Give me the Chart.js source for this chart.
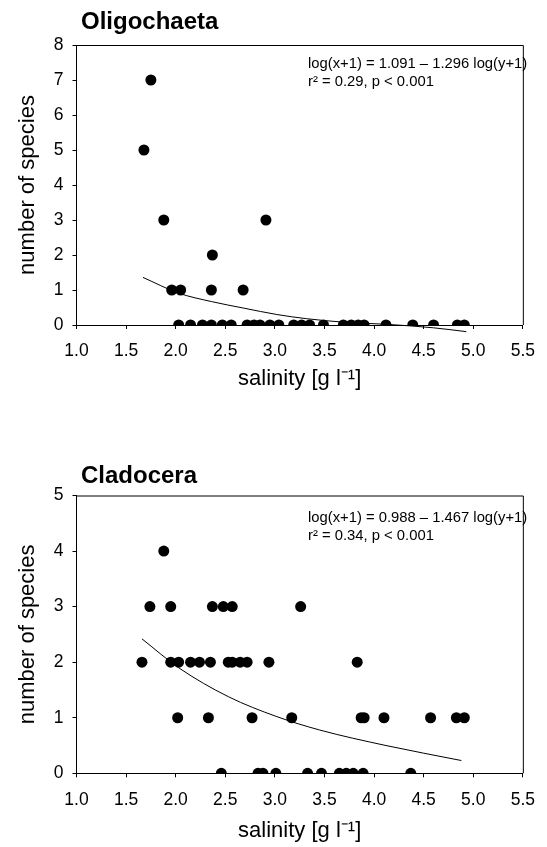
<!DOCTYPE html>
<html>
<head>
<meta charset="utf-8">
<script src="https://cdn.jsdelivr.net/npm/chart.js@4.4.0/dist/chart.umd.min.js"></script>
<style>
  html, body { margin: 0; padding: 0; background: #fff; }
  #wrap { position: relative; width: 547px; height: 847px; }
  canvas { position: absolute; left: 0; }
</style>
</head>
<body>
<div id="wrap">
  <canvas id="c1" width="547" height="420" style="top:0"></canvas>
  <canvas id="c2" width="547" height="427" style="top:420px"></canvas>
</div>
<script>
// ---------- DATA ----------
const salinityTicks = [1.0, 1.5, 2.0, 2.5, 3.0, 3.5, 4.0, 4.5, 5.0, 5.5];
const oligoTicks = [0, 1, 2, 3, 4, 5, 6, 7, 8];
const cladoTicks = [0, 1, 2, 3, 4, 5];

// Oligochaeta observations
const oligoSalinity = [1.68, 1.75, 1.88, 2.91, 2.37, 1.96, 2.05, 2.36, 2.68,
  2.03, 2.15, 2.27, 2.36, 2.47, 2.56, 2.72, 2.79, 2.85, 2.95, 3.04, 3.19,
  3.27, 3.35, 3.49, 3.69, 3.77, 3.84, 3.90, 4.12, 4.39, 4.60, 4.84, 4.91];
const oligoSpecies = [5, 7, 3, 3, 2, 1, 1, 1, 1,
  0, 0, 0, 0, 0, 0, 0, 0, 0, 0, 0, 0,
  0, 0, 0, 0, 0, 0, 0, 0, 0, 0, 0, 0];
// Oligochaeta fitted curve
const oligoFitX = [1.67, 2.03, 2.36, 2.69, 3.02, 3.32, 3.70, 4.12, 4.60, 4.93];
const oligoFitY = [1.36, 0.91, 0.67, 0.48, 0.30, 0.18, 0.08, 0.02, -0.08, -0.19];

// Cladocera observations
const cladoSalinity = [1.88,
  1.74, 1.95, 2.37, 2.48, 2.57, 3.26,
  1.66, 1.95, 2.03, 2.15, 2.24, 2.35, 2.53, 2.57, 2.65, 2.72, 2.94, 3.83,
  2.02, 2.33, 2.77, 3.17, 3.87, 3.90, 4.10, 4.57, 4.83, 4.91,
  2.46, 2.83, 2.88, 3.01, 3.33, 3.47, 3.65, 3.72, 3.79, 3.89, 4.37];
const cladoSpecies = [4,
  3, 3, 3, 3, 3, 3,
  2, 2, 2, 2, 2, 2, 2, 2, 2, 2, 2, 2,
  1, 1, 1, 1, 1, 1, 1, 1, 1, 1,
  0, 0, 0, 0, 0, 0, 0, 0, 0, 0, 0];
// Cladocera fitted curve
const cladoFitX = [1.66, 2.03, 2.53, 3.02, 3.45, 4.12, 4.88];
const cladoFitY = [2.42, 1.90, 1.38, 1.02, 0.78, 0.50, 0.23];

// ---------- TEXT ----------
const oligoTitle = 'Oligochaeta';
const oligoEq = ['log(x+1) = 1.091 – 1.296 log(y+1)', 'r² = 0.29, p < 0.001'];
const cladoTitle = 'Cladocera';
const cladoEq = ['log(x+1) = 0.988 – 1.467 log(y+1)', 'r² = 0.34, p < 0.001'];
const xTitle = 'salinity [g l⁻¹]';
const yTitle = 'number of species';

// ---------- RENDER ----------
const FONT = "'Liberation Sans', Arial, Helvetica, sans-serif";
Chart.defaults.font.family = FONT;
Chart.defaults.color = '#000';

const pairs = (xs, ys) => xs.map((x, i) => ({ x: x, y: ys[i] }));

const framePlugin = {
  id: 'frameText',
  afterDraw(chart, args, opts) {
    const ctx = chart.ctx;
    const a = chart.chartArea;
    ctx.save();
    ctx.strokeStyle = '#000';
    ctx.lineWidth = 1;
    ctx.beginPath();
    ctx.moveTo(a.left, a.top + 0.5);
    ctx.lineTo(a.right + 0.5, a.top + 0.5);
    ctx.lineTo(a.right + 0.5, a.bottom);
    ctx.stroke();
    ctx.fillStyle = '#000';
    ctx.textAlign = 'left';
    ctx.textBaseline = 'alphabetic';
    ctx.font = 'bold 24px ' + FONT;
    ctx.fillText(opts.title, 81, opts.titleY);
    ctx.font = '14.8px ' + FONT;
    opts.eq.forEach((t, i) => ctx.fillText(t, 308, opts.eqY[i]));
    ctx.restore();
  }
};

function makeChart(id, sal, spe, fx, fy, yTicks, o) {
  return new Chart(document.getElementById(id), {
    type: 'scatter',
    data: {
      datasets: [
        {
          data: pairs(sal, spe),
          backgroundColor: '#000',
          borderColor: '#000',
          pointRadius: 5.5,
          pointHoverRadius: 5.5,
          borderWidth: 0
        },
        {
          type: 'line',
          data: pairs(fx, fy),
          borderColor: '#000',
          borderWidth: 1,
          pointRadius: 0,
          fill: false,
          cubicInterpolationMode: 'monotone',
          clip: false
        }
      ]
    },
    options: {
      responsive: false,
      animation: false,
      devicePixelRatio: 1,
      events: [],
      layout: { padding: { top: o.padTop, right: o.padRight, left: 0, bottom: 0 } },
      plugins: {
        legend: { display: false },
        tooltip: { enabled: false },
        frameText: { title: o.title, titleY: o.titleY, eq: o.eq, eqY: o.eqY }
      },
      scales: {
        x: {
          type: 'linear',
          min: 1.0, max: 5.5,
          afterBuildTicks: s => { s.ticks = salinityTicks.map(v => ({ value: v })); },
          afterFit: s => { s.height = o.xHeight; },
          ticks: { font: { size: 17.5 }, padding: 12, maxRotation: 0, autoSkip: false,
                   callback: v => v.toFixed(1) },
          grid: { display: true, drawOnChartArea: false, drawTicks: true, tickLength: 4, color: '#000' },
          border: { display: true, color: '#000', width: 1 },
          title: { display: true, text: xTitle, font: { size: 22 },
                   padding: { top: 0, bottom: o.xTitlePad } }
        },
        y: {
          type: 'linear',
          min: yTicks[0], max: yTicks[yTicks.length - 1],
          afterBuildTicks: s => { s.ticks = yTicks.map(v => ({ value: v })); },
          afterFit: s => { s.width = 76.5; },
          ticks: { font: { size: 17.5 }, padding: 9, autoSkip: false, callback: v => String(v) },
          grid: { display: true, drawOnChartArea: false, drawTicks: true, tickLength: 4, color: '#000' },
          border: { display: true, color: '#000', width: 1 },
          title: { display: true, text: yTitle, font: { size: 22 },
                   padding: { top: 15, bottom: 0 } }
        }
      }
    },
    plugins: [framePlugin]
  });
}

makeChart('c1', oligoSalinity, oligoSpecies, oligoFitX, oligoFitY, oligoTicks, {
  padTop: 45, padRight: 17, xHeight: 95, xTitlePad: 27.8,
  title: oligoTitle, titleY: 29, eq: oligoEq, eqY: [68, 86]
});
makeChart('c2', cladoSalinity, cladoSpecies, cladoFitX, cladoFitY, cladoTicks, {
  padTop: 75.5, padRight: 18, xHeight: 73.7, xTitlePad: 3.3,
  title: cladoTitle, titleY: 63, eq: cladoEq, eqY: [102, 120]
});
</script>
</body>
</html>
